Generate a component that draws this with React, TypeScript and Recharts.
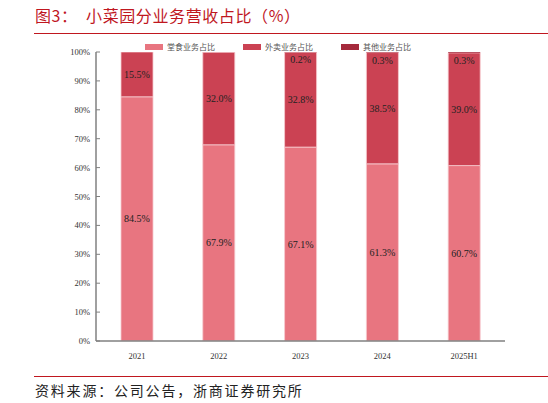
import React from 'react';
import { BarChart, Bar, XAxis, YAxis, LabelList } from 'recharts';

const years = ['2021', '2022', '2023', '2024', '2025H1'];
const dineIn = [84.5, 67.9, 67.1, 61.3, 60.7];
const takeaway = [15.5, 32.0, 32.8, 38.5, 39.0];
const other = [0, 0, 0.2, 0.3, 0.3];
const yTicks = [0, 10, 20, 30, 40, 50, 60, 70, 80, 90, 100];

const seriesNames = ['堂食业务占比', '外卖业务占比', '其他业务占比'];
const seriesColors = ['#E87580', '#CB4253', '#A52A3C'];

const chartData = years.map((year, i) => ({
  name: year,
  dineIn: dineIn[i],
  takeaway: takeaway[i],
  other: other[i],
}));

const serif = '"Liberation Serif", "DejaVu Serif", serif';
const cjk = '"Noto Sans CJK SC", sans-serif';

// y ticks: tick mark points into the plot, text on the left
const YTick = (props: any) => {
  const { x, y, payload } = props;
  return (
    <g>
      <line x1={x + 6} x2={x + 10} y1={y} y2={y} stroke="#808080" strokeWidth={1} />
      <text x={x} y={y} dy={3} textAnchor="end" fontSize={8.5} fill="#333" fontFamily={serif}>
        {payload.value}%
      </text>
    </g>
  );
};

const midLabel = (props: any) => {
  const { x, y, width, height, value } = props;
  if (!value) return null;
  return (
    <text x={x + width / 2} y={y + height / 2} dy={3.5} textAnchor="middle" fontSize={10} fill="#222" fontFamily={serif}>
      {value.toFixed(1)}%
    </text>
  );
};

// small "other" share is labelled just under the top of the stack
const otherLabel = (props: any) => {
  const { x, y, width, height, value } = props;
  if (!value) return null;
  return (
    <text x={x + width / 2} y={y + height + 8} dy={3} textAnchor="middle" fontSize={10} fill="#222" fontFamily={serif}>
      {value.toFixed(1)}%
    </text>
  );
};

const App: React.FC = () => {
  return (
    <div style={{ position: 'fixed', left: 0, top: 0, width: 548, height: 403, background: '#fff' }}>
      <div style={{ position: 'absolute', left: 35, top: 3, fontFamily: cjk, fontSize: 16, color: '#C0171F', whiteSpace: 'nowrap', letterSpacing: 0.6 }}>
        图3：&nbsp;&nbsp;小菜园分业务营收占比（%）
      </div>
      <div style={{ position: 'absolute', left: 34, top: 33, width: 514, height: 1, background: '#C0171F' }} />

      <div style={{ position: 'absolute', left: 145, top: 41, display: 'flex', fontFamily: cjk, fontSize: 8, color: '#555' }}>
        {seriesNames.map((n, i) => (
          <div key={n} style={{ display: 'flex', alignItems: 'center', width: 98 }}>
            <div style={{ width: 18, height: 6, background: seriesColors[i], marginRight: 4 }} />
            <span>{n}</span>
          </div>
        ))}
      </div>

      <div style={{ position: 'absolute', left: 0, top: 0 }}>
        <BarChart
          width={548}
          height={403}
          data={chartData}
          margin={{ top: 52, right: 43, left: 0, bottom: 42 }}
          barSize={32}
        >
          <XAxis
            dataKey="name"
            height={20}
            tickLine={false}
            axisLine={{ stroke: '#808080', strokeWidth: 1.5 }}
            tick={{ fontSize: 8.5, fill: '#333', fontFamily: serif }}
            tickMargin={6}
          />
          <YAxis
            width={96}
            domain={[0, 100]}
            ticks={yTicks}
            allowDataOverflow
            tickLine={false}
            tickSize={0}
            tickMargin={6}
            axisLine={{ stroke: '#808080', strokeWidth: 1.5 }}
            tick={<YTick />}
          />
          <Bar dataKey="dineIn" stackId="a" fill={seriesColors[0]} stroke="#F6C9CE" strokeWidth={0.8} isAnimationActive={false}>
            <LabelList dataKey="dineIn" content={midLabel} />
          </Bar>
          <Bar dataKey="takeaway" stackId="a" fill={seriesColors[1]} stroke="#F6C9CE" strokeWidth={0.8} isAnimationActive={false}>
            <LabelList dataKey="takeaway" content={midLabel} />
          </Bar>
          <Bar dataKey="other" stackId="a" fill={seriesColors[2]} isAnimationActive={false}>
            <LabelList dataKey="other" content={otherLabel} />
          </Bar>
        </BarChart>
      </div>

      <div style={{ position: 'absolute', left: 34, top: 376, width: 514, height: 1, background: '#C0171F' }} />
      <div style={{ position: 'absolute', left: 35, top: 380, fontFamily: cjk, fontSize: 14, color: '#222', whiteSpace: 'nowrap', letterSpacing: 1.8 }}>
        资料来源：公司公告，浙商证券研究所
      </div>
    </div>
  );
};

export default App;
